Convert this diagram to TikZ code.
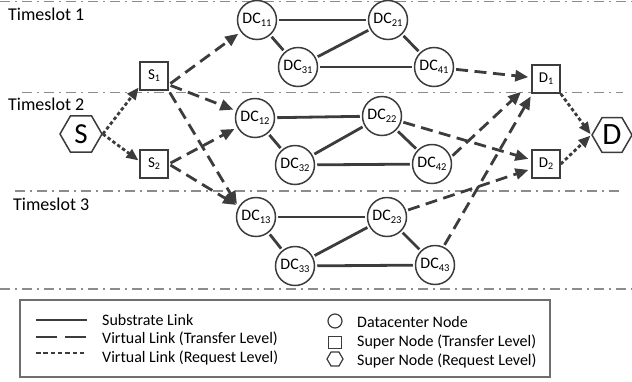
\documentclass[tikz,border=0pt]{standalone}
\usepackage{fontspec}
\setmainfont{Carlito}
\usetikzlibrary{arrows.meta,shapes.geometric}
\definecolor{ln}{HTML}{3C3C3C}
\definecolor{sepc}{HTML}{8C8C8C}
\definecolor{boxc}{HTML}{6E6E6E}
\newcommand{\dcl}[1]{DC\raisebox{-2.5pt}{\fontsize{10.5}{11}\selectfont #1}}
\newcommand{\snl}[2]{#1\raisebox{-2pt}{\fontsize{10}{10}\selectfont #2}}
\begin{document}
\begin{tikzpicture}[x=1pt,y=-1pt,
 dc/.style={circle,draw=ln,line width=1.5pt,fill=white,minimum size=39pt,inner sep=0pt,font=\fontsize{16}{16}\selectfont},
 sq/.style={rectangle,draw=ln,line width=1.5pt,fill=white,minimum size=28pt,inner sep=0pt,font=\fontsize{15}{15}\selectfont},
 hex/.style={regular polygon,regular polygon sides=6,draw=ln,line width=1.5pt,fill=white,minimum size=42pt,inner sep=0pt},
 sub/.style={draw=ln,line width=2.8pt,shorten <=2pt,shorten >=2pt},
 tl/.style={draw=ln,line width=2.8pt,dash pattern=on 12pt off 6.5pt,-{Triangle[length=13pt,width=11pt]},shorten >=3pt,shorten <=2pt},
 rl/.style={draw=ln,line width=2.8pt,dash pattern=on 3.5pt off 2.5pt,-{Triangle[length=12pt,width=10pt]},shorten >=1pt},
 sepline/.style={draw=sepc,line width=1.5pt,dash pattern=on 10pt off 5pt on 2pt off 5pt},
 lbl/.style={anchor=base west,inner sep=0pt,font=\fontsize{18}{18}\selectfont},
 leg/.style={anchor=base west,inner sep=0pt,font=\fontsize{16}{16}\selectfont}]
\useasboundingbox (0,0) rectangle (632,381);
% separators
\draw[sepline] (0,1.5) -- (632,1.5);
\draw[sepline] (22,92.5) -- (623,92.5);
\draw[sepline] (15,191) -- (622,191);
\draw[sepline] (0,289) -- (632,289);
% timeslot labels
\node[lbl] (t1) at (8,20) {Timeslot 1};
\node[lbl] (t2) at (8,110) {Timeslot 2};
\node[lbl] (t3) at (13,210) {Timeslot 3};
% datacenter nodes
\node[dc] (DC11) at (257,20) {\dcl{11}};
\node[dc] (DC21) at (388,20) {\dcl{21}};
\node[dc] (DC31) at (298,67) {\dcl{31}};
\node[dc] (DC41) at (434,67) {\dcl{41}};
\node[dc] (DC12) at (255,118) {\dcl{12}};
\node[dc] (DC22) at (382,116) {\dcl{22}};
\node[dc] (DC32) at (295,165) {\dcl{32}};
\node[dc] (DC42) at (432,164) {\dcl{42}};
\node[dc] (DC13) at (256,217) {\dcl{13}};
\node[dc] (DC23) at (387,217) {\dcl{23}};
\node[dc] (DC33) at (295,266) {\dcl{33}};
\node[dc] (DC43) at (435,265) {\dcl{43}};
% super nodes
\node[sq] (S1) at (154,76) {\snl{S}{1}};
\node[sq] (S2) at (154,164) {\snl{S}{2}};
\node[sq] (D1) at (546,79) {\snl{D}{1}};
\node[sq] (D2) at (546,164) {\snl{D}{2}};
\node[hex,font=\fontsize{29}{29}\selectfont] (S) at (81,134) {S};
\node[hex,minimum size=40pt,font=\fontsize{31}{31}\selectfont] (D) at (612,135) {D};
% substrate links
\foreach \t in {1,2,3}{
  \draw[sub] (DC1\t) -- (DC2\t);
  \draw[sub] (DC1\t) -- (DC3\t);
  \draw[sub] (DC3\t) -- (DC2\t);
  \draw[sub] (DC3\t) -- (DC4\t);
  \draw[sub] (DC2\t) -- (DC4\t);
}
% virtual links (transfer level)
\draw[tl] ([yshift=6pt]S1.south east) -- (DC11);
\draw[tl] ([yshift=6pt]S1.south east) -- (DC12);
\draw[tl] (S1.south east) -- (DC13.150);
\draw[tl] (S2.east) -- (DC12);
\draw[tl] (S2.east) -- (DC13);
\draw[tl] (DC41) -- (D1);
\draw[tl] (DC22) -- (D2);
\draw[tl] (DC23) -- (D2);
\draw[tl] (DC42.20) -- ([xshift=-8pt,yshift=4pt]D1.south west);
\draw[tl] (DC43.65) -- ([xshift=1pt]D1.south west);
% virtual links (request level)
\draw[rl] (S.east) -- ([yshift=4pt]S1.south west);
\draw[rl] (S.east) -- ([yshift=3pt]S2.west);
\draw[rl] (D1.south east) -- (D.west);
\draw[rl] (D2.east) -- (D.west);
% legend
\draw[draw=boxc,line width=1.5pt] (20,300) rectangle (550,377);
\coordinate (la1) at (36,320); \coordinate (lb1) at (87,320);
\coordinate (la2) at (36,337); \coordinate (lb2) at (87,337);
\coordinate (la3) at (36,353); \coordinate (lb3) at (87,353);
\draw[draw=ln,line width=2.5pt] (la1) -- (lb1);
\draw[draw=ln,line width=2.5pt,dash pattern=on 21pt off 8pt] (la2) -- (lb2);
\draw[draw=ln,line width=2pt,dash pattern=on 4.5pt off 2.8pt] (la3) -- (lb3);
\node[leg] (lt1) at (102,325) {Substrate Link};
\node[leg] (lt2) at (102,343.5) {Virtual Link (Transfer Level)};
\node[leg] (lt3) at (102,362) {Virtual Link (Request Level)};
\node[circle,draw=ln,line width=1.2pt,minimum size=14pt,inner sep=0pt] (lc) at (335,321) {};
\node[rectangle,draw=ln,line width=1.2pt,minimum width=13pt,minimum height=12pt,inner sep=0pt] (ls) at (335,342.5) {};
\node[regular polygon,regular polygon sides=6,draw=ln,line width=1.2pt,minimum size=16pt,inner sep=0pt] (lh) at (335,359) {};
\node[leg] (lt4) at (357,327) {Datacenter Node};
\node[leg] (lt5) at (357,346) {Super Node (Transfer Level)};
\node[leg] (lt6) at (357,365) {Super Node (Request Level)};
\end{tikzpicture}
\end{document}
